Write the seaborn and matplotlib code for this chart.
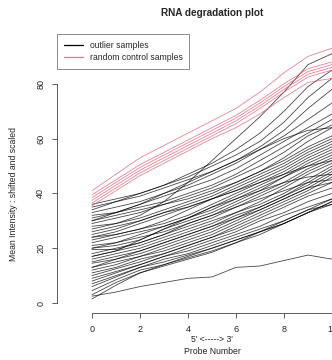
import pandas as pd
import matplotlib.pyplot as plt
import seaborn as sns
from matplotlib.lines import Line2D

probes = list(range(11))

# outlier samples (black)
outliers = [
    [27, 29, 32, 37, 44, 52, 60, 68, 77, 87, 91],
    [36, 38, 40, 43, 47, 51, 56, 62, 70, 79, 85],
    [34, 37, 40, 43, 46, 50, 54, 59, 66, 75, 82],
    [35, 37, 39, 42, 45, 48, 52, 57, 63, 71, 78],
    [33, 35, 37, 40, 43, 47, 51, 56, 61, 67, 73],
    [31, 33, 36, 39, 42, 45, 49, 54, 59, 64, 69],
    [32, 33, 35, 37, 40, 43, 47, 52, 57, 62, 67],
    [30, 32, 34, 36, 39, 42, 46, 50, 55, 61, 65],
    [29, 31, 33, 36, 38, 41, 44, 48, 53, 59, 64],
    [28, 29, 31, 34, 37, 40, 44, 48, 52, 57, 61],
    [26, 28, 30, 33, 36, 39, 43, 47, 51, 56, 60],
    [25, 27, 30, 33, 35, 38, 42, 46, 50, 55, 59],
    [24, 25, 27, 30, 34, 38, 41, 45, 49, 54, 58],
    [23, 25, 27, 29, 32, 36, 40, 44, 48, 53, 57],
    [22, 24, 26, 28, 31, 35, 39, 43, 47, 52, 56],
    [21, 22, 25, 28, 31, 34, 38, 42, 46, 51, 55],
    [20, 21, 23, 27, 30, 33, 37, 41, 46, 50, 54],
    [19.5, 19.5, 22, 25, 29, 32, 36, 40, 44, 49, 53],
    [18, 20, 22, 25, 28, 31, 35, 39, 43, 48, 52],
    [17, 19, 21, 24, 27, 30, 33, 37, 42, 47, 51],
    [16, 18, 20, 23, 26, 29, 33, 36, 40, 45, 50],
    [15, 17, 19, 22, 25, 28, 32, 35, 39, 44, 49],
    [14.5, 16, 18, 21, 24, 27, 31, 35, 39, 43, 48],
    [13, 15, 17, 20, 23, 26, 30, 34, 38, 42, 47],
    [12, 14, 17, 19, 22, 25, 29, 33, 37, 41, 46],
    [11, 13, 16, 18, 21, 24, 28, 32, 36, 40, 44],
    [10, 12.5, 15, 18, 21, 24, 27, 31, 35, 39, 42],
    [9, 11.5, 14, 17, 20, 23, 26, 30, 33, 37, 40],
    [8, 11, 14, 17, 19, 22, 25, 28, 32, 35, 38],
    [7, 10, 13, 16, 18, 21, 24, 27, 30, 34, 36],
    [6, 9.5, 13, 15, 17.5, 20, 23, 26, 29, 33, 37],
    [4.5, 8.5, 12, 14, 16.5, 19, 22, 26, 30, 34, 38],
    [3, 7.5, 11, 13.5, 16, 18.5, 22, 25, 29, 33, 37],
    [1.5, 6.5, 11, 14, 17, 20, 23, 26, 29, 33, 36],
    [2.5, 4, 6, 7.5, 9, 9.5, 13, 13.5, 15.5, 17.5, 16],
    [24, 26, 29, 32, 35, 38, 41, 44, 47, 50, 52],
    [17, 19, 23, 27, 31, 35, 38, 41, 44, 46, 47],
    [20, 22, 24, 26, 29, 32, 35, 38, 41, 44, 45],
    [13, 16, 19, 22, 25, 28, 31, 34, 38, 42, 44],
    [30, 33, 36, 40, 44, 48, 52, 56, 60, 63, 64],
]

# random control samples (red)
controls = [
    [41, 47, 53, 57.5, 62, 66.5, 71, 77, 84, 90, 93],
    [39.5, 45, 50.5, 55, 59.5, 64, 68.5, 74, 80, 85.5, 88],
    [38.5, 44, 49.5, 54, 58.5, 63, 67.5, 73, 79, 84.5, 87],
    [37.5, 43, 48.5, 53, 57.5, 62, 66.5, 72, 78, 83.5, 86],
    [36.5, 42, 47.5, 52, 56.5, 61, 65.5, 71, 77, 82.5, 85],
    [35.5, 41, 46.5, 51, 55.5, 60, 64, 69, 75, 80.5, 82],
]

rows = []
for i, vals in enumerate(outliers):
    for p, v in zip(probes, vals):
        rows.append({"sample": f"o{i}", "group": "outlier samples", "probe": p, "intensity": v})
for i, vals in enumerate(controls):
    for p, v in zip(probes, vals):
        rows.append({"sample": f"c{i}", "group": "random control samples", "probe": p, "intensity": v})
df = pd.DataFrame(rows)

sns.set_style("ticks")
plt.rcParams["font.family"] = ["Liberation Sans", "DejaVu Sans"]

W, H = 332, 360
fig = plt.figure(figsize=(W / 100, H / 100), dpi=100)
ax = fig.add_axes([57 / W, (H - 313) / H, 1 - 57 / W, (313 - 40) / H])

pal = {"outlier samples": "black", "random control samples": "#DF536B"}
sns.lineplot(data=df, x="probe", y="intensity", hue="group", units="sample",
             estimator=None, palette=pal, lw=0.6, alpha=0.72, legend=False, ax=ax)

ax.set_xlim((57 - 92) / 24, (332 - 92) / 24)
ax.set_ylim((303 - 313) / 2.74, (303 - 40) / 2.74)
ax.set_xticks([0, 2, 4, 6, 8, 10])
ax.set_yticks([0, 20, 40, 60, 80])
ax.set_xlabel("")
ax.set_ylabel("")
for s in ["top", "right"]:
    ax.spines[s].set_visible(False)
ax.spines["left"].set_bounds(0, 80)
ax.spines["bottom"].set_bounds(0, 10)
for s in ["left", "bottom"]:
    ax.spines[s].set_color("#444444")
    ax.spines[s].set_linewidth(0.6)
ax.tick_params(axis="both", length=3.5, width=0.6, color="#444444",
               labelsize=6.5, labelcolor="#222222")
ax.tick_params(axis="x", pad=5)
ax.tick_params(axis="y", pad=5)
for lab in ax.get_yticklabels():
    lab.set_rotation(90)
    lab.set_va("center")

fig.text(212 / W, 1 - 13 / H, "RNA degradation plot", ha="center", va="center",
         fontsize=7.2, fontweight="bold")
fig.text(212 / W, 1 - 340 / H, "5' <-----> 3'", ha="center", va="center", fontsize=6.2, color="#222222")
fig.text(212 / W, 1 - 352 / H, "Probe Number", ha="center", va="center", fontsize=6.2, color="#222222")
fig.text(14 / W, 1 - 194 / H, "Mean Intensity : shifted and scaled", ha="center", va="center",
         rotation=90, fontsize=6.2, color="#222222")

handles = [Line2D([], [], color="black", lw=0.9),
           Line2D([], [], color="#DF536B", lw=0.9, alpha=0.8)]
leg = fig.legend(handles, ["outlier samples", "random control samples"], loc="upper left",
                 bbox_to_anchor=(57 / W, 1 - 34 / H), borderaxespad=0, frameon=True,
                 fancybox=False, edgecolor="#555555", fontsize=6.2, handlelength=2.2,
                 labelspacing=0.35, borderpad=0.8)
leg.get_frame().set_linewidth(0.6)

fig.savefig("out.png", dpi=100)
